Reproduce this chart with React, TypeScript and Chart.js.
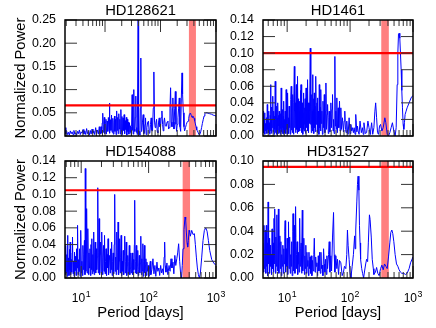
import React, { useEffect, useRef } from 'react';
import { Chart, registerables } from 'chart.js';

Chart.register(...registerables);

const FONT = '"Liberation Sans", Arial, Helvetica, sans-serif';

// ---------------- chart values ----------------
const TITLES = ['HD128621', 'HD1461', 'HD154088', 'HD31527'];
const X_MIN = [1.9, 4.13, 5.75, 4.13];
const X_MAX = [1000, 1000, 1000, 1000];
const Y_MAX = [0.25, 0.14, 0.14, 0.1];
const Y_STEP = [0.05, 0.02, 0.02, 0.02];
const THRESHOLD = [0.066, 0.1, 0.105, 0.095];
const BAND_START = [325, 313, 320, 313];
const BAND_END = [435, 413, 412, 413];
const X_TICKS = [10, 100, 1000];
const X_TICK_BASE = ['10', '10', '10'];
const X_TICK_EXP = ['1', '2', '3'];
const Y_LABEL = 'Normalized Power';
const X_LABEL = 'Period [days]';

// HD128621
const TL_PERIOD = [
  1.9, 1.97, 2.04, 2.12, 2.2, 2.28, 2.37, 2.46, 2.55, 2.65,
  2.75, 2.86, 2.97, 3.08, 3.2, 3.32, 3.45, 3.58, 3.72, 3.86,
  4.01, 4.16, 4.32, 4.49, 4.66, 4.84, 5.02, 5.21, 5.41, 5.62,
  5.84, 6.06, 6.29, 6.53, 6.78, 7.04, 7.31, 7.59, 7.88, 8.1,
  8.3, 8.5, 8.7, 8.9, 9.1, 9.3, 9.5, 9.7, 9.9, 10.1,
  10.4, 10.6, 10.9, 11.2, 11.5, 11.8, 12.0, 12.2, 12.5, 12.8,
  13.1, 13.4, 13.8, 14.1, 14.5, 14.8, 15.1, 15.5, 15.8, 16.2,
  16.6, 16.9, 17.3, 17.7, 18.1, 18.5, 18.9, 19.3, 19.7, 20.2,
  20.6, 21.1, 21.6, 22.1, 22.6, 23.1, 23.6, 24.2, 24.7, 25.2,
  25.7, 26.3, 26.9, 27.6, 28.2, 28.9, 29.5, 30.1, 30.8, 31.3,
  31.7, 32.3, 33.0, 33.6, 34.4, 35.1, 35.9, 36.6, 37.4, 38.2,
  39.5, 40.3, 41.2, 42.4, 43.3, 44.2, 45.1, 46.1, 47.3, 48.7,
  50.0, 51.5, 52.6, 53.7, 55.2, 56.8, 58.8, 60.8, 62.5, 64.3,
  66.0, 67.9, 69.8, 71.8, 74.0, 75.9, 78.0, 80.3, 82.5, 84.9,
  87.3, 89.7, 92.2, 94.8, 97.4, 100, 103, 106, 109, 112,
  115, 118, 122, 127, 131, 136, 140, 144, 148, 152,
  156, 161, 164, 167, 171, 175, 180, 185, 190, 195,
  200, 206, 212, 218, 224, 231, 237, 244, 250, 258,
  265, 272, 282, 292, 302, 313, 322, 331, 340, 349,
  360, 370, 380, 391, 402, 413, 425, 437, 450, 462,
  478, 495, 512, 530, 550, 568, 590, 609, 630, 653,
  690, 720, 770, 826, 890, 949, 1000,
];
const TL_POWER = [
  0.018, 0.004, 0.010, 0.003, 0.008, 0.002, 0.011, 0.005, 0.009, 0.003,
  0.012, 0.004, 0.007, 0.002, 0.010, 0.005, 0.013, 0.003, 0.009, 0.006,
  0.014, 0.004, 0.011, 0.003, 0.016, 0.005, 0.010, 0.002, 0.012, 0.004,
  0.015, 0.006, 0.011, 0.003, 0.018, 0.005, 0.013, 0.004, 0.020, 0.006,
  0.004, 0.020, 0.006, 0.028, 0.049, 0.008, 0.025, 0.040, 0.005, 0.030,
  0.036, 0.004, 0.032, 0.010, 0.040, 0.015, 0.071, 0.006, 0.035, 0.012,
  0.045, 0.008, 0.038, 0.004, 0.030, 0.043, 0.010, 0.036, 0.003, 0.054,
  0.012, 0.040, 0.005, 0.048, 0.015, 0.036, 0.004, 0.057, 0.010, 0.042,
  0.003, 0.039, 0.012, 0.046, 0.005, 0.033, 0.014, 0.040, 0.002, 0.036,
  0.010, 0.030, 0.004, 0.028, 0.008, 0.022, 0.003, 0.020, 0.089, 0.012,
  0.030, 0.004, 0.100, 0.015, 0.010, 0.040, 0.086, 0.008, 0.018, 0.003,
  0.260, 0.004, 0.010, 0.002, 0.060, 0.168, 0.010, 0.012, 0.030, 0.046,
  0.005, 0.007, 0.025, 0.039, 0.003, 0.018, 0.030, 0.032, 0.006, 0.007,
  0.025, 0.039, 0.012, 0.011, 0.060, 0.138, 0.030, 0.018, 0.028, 0.036,
  0.010, 0.007, 0.030, 0.039, 0.020, 0.018, 0.040, 0.054, 0.025, 0.011,
  0.030, 0.039, 0.022, 0.021, 0.030, 0.032, 0.015, 0.018, 0.060, 0.104,
  0.030, 0.020, 0.060, 0.082, 0.030, 0.015, 0.060, 0.096, 0.025, 0.010,
  0.025, 0.039, 0.060, 0.082, 0.020, 0.010, 0.080, 0.136, 0.090, 0.050,
  0.020, 0.011, 0.018, 0.025, 0.030, 0.032, 0.038, 0.046, 0.049, 0.048,
  0.044, 0.040, 0.043, 0.042, 0.038, 0.033, 0.026, 0.020, 0.013, 0.011,
  0.007, 0.003, 0.004, 0.009, 0.018, 0.027, 0.036, 0.043, 0.048, 0.050,
  0.050, 0.049, 0.048, 0.047, 0.045, 0.044, 0.043,
];

// HD1461
const TR_PERIOD = [
  4.13, 4.22, 4.30, 4.38, 4.44, 4.52, 4.60, 4.68, 4.76, 4.83,
  4.90, 4.98, 5.07, 5.14, 5.22, 5.30, 5.38, 5.45, 5.52, 5.60,
  5.66, 5.72, 5.80, 5.87, 5.94, 6.00, 6.08, 6.15, 6.22, 6.30,
  6.38, 6.46, 6.55, 6.63, 6.70, 6.78, 6.86, 6.95, 7.03, 7.12,
  7.20, 7.30, 7.38, 7.47, 7.56, 7.66, 7.75, 7.85, 7.94, 8.04,
  8.13, 8.24, 8.34, 8.44, 8.55, 8.66, 8.75, 8.85, 8.96, 9.07,
  9.18, 9.30, 9.42, 9.53, 9.64, 9.76, 9.88, 10.0, 10.1, 10.2,
  10.35, 10.5, 10.6, 10.75, 10.9, 11.05, 11.2, 11.4, 11.6, 11.75,
  11.9, 12.05, 12.2, 12.3, 12.45, 12.6, 12.8, 13.0, 13.15, 13.3,
  13.5, 13.65, 13.8, 14.0, 14.15, 14.35, 14.5, 14.7, 14.9, 15.1,
  15.3, 15.5, 15.7, 15.9, 16.1, 16.3, 16.45, 16.6, 16.8, 17.0,
  17.2, 17.5, 17.7, 17.9, 18.1, 18.4, 18.6, 18.9, 19.1, 19.3,
  19.55, 19.8, 20.0, 20.2, 20.45, 20.7, 20.95, 21.2, 21.45, 21.7,
  22.0, 22.3, 22.6, 22.9, 23.3, 23.6, 23.9, 24.2, 24.5, 24.8,
  25.1, 25.4, 25.7, 26.0, 26.3, 26.6, 27.0, 27.4, 27.8, 28.2,
  28.7, 29.1, 29.5, 29.8, 30.2, 30.5, 30.9, 31.4, 31.9, 32.4,
  32.9, 33.6, 34.0, 34.4, 35.0, 35.7, 36.3, 37.1, 37.9, 38.9,
  39.8, 40.5, 41.3, 42.2, 43.0, 43.9, 45.0, 46.0, 46.6, 47.8,
  48.6, 49.5, 50.5, 51.6, 52.6, 53.6, 54.6, 55.8, 57.3, 58.3,
  59.4, 60.5, 61.6, 62.9, 64.7, 66.2, 67.9, 69.5, 71.3, 73.0,
  75.7, 78.5, 80.5, 82.4, 84.5, 86.5, 88.6, 91.0, 93.1, 96.5,
  100, 103, 106, 109, 113, 116, 120, 123, 128, 131,
  134, 139, 144, 151, 157, 162, 166, 175, 183, 192,
  200, 208, 212, 220, 229, 239, 248, 255, 264, 273,
  283, 294, 305, 320, 336, 357, 370, 389, 408, 428,
  449, 471, 496, 520, 540, 560, 574, 588, 602, 617,
  632, 648, 664, 680, 697, 714, 731, 749, 777, 806,
  867, 932, 1000,
];
const TR_POWER = [
  0.030, 0.004, 0.020, 0.028, 0.002, 0.015, 0.006, 0.022, 0.003, 0.038,
  0.008, 0.018, 0.030, 0.004, 0.016, 0.002, 0.025, 0.062, 0.006, 0.020,
  0.003, 0.035, 0.010, 0.026, 0.048, 0.005, 0.030, 0.012, 0.002, 0.024,
  0.008, 0.066, 0.004, 0.028, 0.010, 0.036, 0.002, 0.022, 0.007, 0.040,
  0.003, 0.025, 0.012, 0.030, 0.004, 0.018, 0.002, 0.027, 0.009, 0.058,
  0.005, 0.020, 0.003, 0.032, 0.010, 0.024, 0.002, 0.042, 0.006, 0.020,
  0.004, 0.030, 0.011, 0.003, 0.056, 0.008, 0.026, 0.002, 0.034, 0.052,
  0.006, 0.022, 0.003, 0.036, 0.010, 0.028, 0.002, 0.044, 0.060, 0.007,
  0.030, 0.004, 0.038, 0.050, 0.012, 0.002, 0.040, 0.084, 0.010, 0.030,
  0.040, 0.004, 0.035, 0.062, 0.008, 0.040, 0.003, 0.072, 0.012, 0.045,
  0.005, 0.030, 0.042, 0.006, 0.035, 0.055, 0.010, 0.062, 0.004, 0.030,
  0.012, 0.040, 0.002, 0.028, 0.008, 0.052, 0.006, 0.034, 0.014, 0.045,
  0.003, 0.030, 0.058, 0.010, 0.036, 0.048, 0.006, 0.068, 0.012, 0.040,
  0.004, 0.040, 0.015, 0.030, 0.106, 0.014, 0.036, 0.004, 0.050, 0.010,
  0.030, 0.074, 0.006, 0.032, 0.045, 0.003, 0.052, 0.010, 0.036, 0.005,
  0.072, 0.014, 0.030, 0.040, 0.004, 0.046, 0.012, 0.030, 0.002, 0.062,
  0.010, 0.035, 0.006, 0.056, 0.015, 0.030, 0.002, 0.042, 0.010, 0.050,
  0.004, 0.030, 0.064, 0.008, 0.026, 0.038, 0.003, 0.022, 0.030, 0.005,
  0.028, 0.040, 0.010, 0.032, 0.050, 0.006, 0.020, 0.003, 0.096, 0.012,
  0.030, 0.008, 0.046, 0.004, 0.034, 0.010, 0.042, 0.006, 0.034, 0.008,
  0.022, 0.005, 0.018, 0.030, 0.008, 0.004, 0.018, 0.006, 0.002, 0.022,
  0.003, 0.014, 0.006, 0.010, 0.004, 0.010, 0.002, 0.026, 0.005, 0.012,
  0.006, 0.002, 0.018, 0.004, 0.010, 0.002, 0.016, 0.003, 0.004, 0.018,
  0.010, 0.002, 0.006, 0.016, 0.002, 0.010, 0.030, 0.040, 0.022, 0.004,
  0.002, 0.012, 0.014, 0.006, 0.010, 0.022, 0.016, 0.002, 0.000, 0.004,
  0.010, 0.016, 0.006, 0.000, 0.010, 0.062, 0.100, 0.123, 0.124, 0.118,
  0.100, 0.080, 0.055, 0.034, 0.014, 0.008, 0.016, 0.026, 0.030, 0.034,
  0.040, 0.046, 0.049,
];

// HD154088
const BL_PERIOD = [
  5.78, 5.85, 5.92, 6.02, 6.12, 6.19, 6.26, 6.37, 6.48, 6.59,
  6.71, 6.78, 6.86, 6.98, 7.10, 7.22, 7.35, 7.43, 7.56, 7.69,
  7.82, 7.96, 8.10, 8.24, 8.38, 8.53, 8.67, 8.83, 8.98, 9.14,
  9.30, 9.46, 9.62, 9.79, 9.89, 10.07, 10.24, 10.42, 10.60, 10.79,
  10.98, 11.17, 11.37, 11.50, 11.70, 11.90, 12.04, 12.24, 12.46, 12.60,
  12.82, 13.04, 13.27, 13.50, 13.73, 13.97, 14.22, 14.38, 14.63, 14.89,
  15.15, 15.33, 15.59, 15.87, 16.14, 16.43, 16.71, 17.01, 17.31, 17.61,
  17.92, 18.23, 18.44, 18.76, 19.09, 19.42, 19.76, 19.99, 20.34, 20.69,
  21.06, 21.42, 21.80, 22.18, 22.57, 22.97, 23.37, 23.78, 24.20, 24.62,
  25.05, 25.49, 25.94, 26.39, 26.86, 27.33, 27.81, 28.29, 28.79, 29.30,
  29.81, 30.33, 30.86, 31.41, 31.96, 32.52, 33.09, 33.67, 34.26, 34.86,
  35.27, 35.89, 36.52, 37.16, 37.81, 38.47, 39.15, 39.83, 40.53, 41.24,
  41.96, 42.70, 43.45, 44.21, 44.98, 45.77, 46.57, 47.39, 48.22, 49.06,
  49.92, 50.80, 51.69, 52.59, 53.52, 54.45, 55.41, 56.38, 57.36, 58.37,
  59.39, 60.43, 61.49, 62.20, 63.29, 64.40, 65.53, 66.68, 67.85, 69.04,
  70.25, 71.48, 72.74, 74.01, 75.31, 76.63, 77.97, 79.34, 80.73, 82.15,
  83.59, 85.05, 86.55, 88.06, 89.61, 91.18, 92.78, 94.41, 96.6, 98.9,
  101, 103, 106, 108, 112, 116, 120, 124, 128, 133,
  137, 142, 146, 151, 156, 161, 166, 170, 173, 176,
  181, 187, 193, 201, 208, 215, 222, 230, 237, 245,
  253, 262, 270, 279, 289, 298, 308, 316, 324, 335,
  347, 355, 363, 372, 380, 389, 398, 407, 416, 436,
  456, 478, 494, 511, 529, 548, 567, 587, 614, 642,
  672, 704, 737, 771, 807, 864, 925, 1000,
];
const BL_POWER = [
  0.020, 0.004, 0.039, 0.006, 0.028, 0.002, 0.051, 0.008, 0.024, 0.003,
  0.034, 0.010, 0.043, 0.004, 0.022, 0.007, 0.030, 0.049, 0.005, 0.020,
  0.002, 0.031, 0.009, 0.026, 0.003, 0.035, 0.012, 0.063, 0.004, 0.022,
  0.008, 0.035, 0.002, 0.040, 0.057, 0.006, 0.020, 0.003, 0.039, 0.010,
  0.028, 0.045, 0.004, 0.131, 0.008, 0.030, 0.083, 0.006, 0.025, 0.059,
  0.004, 0.030, 0.012, 0.035, 0.003, 0.040, 0.010, 0.047, 0.005, 0.028,
  0.008, 0.055, 0.004, 0.030, 0.043, 0.006, 0.035, 0.010, 0.025, 0.108,
  0.006, 0.030, 0.071, 0.004, 0.028, 0.043, 0.006, 0.030, 0.055, 0.004,
  0.025, 0.039, 0.008, 0.051, 0.005, 0.020, 0.035, 0.003, 0.028, 0.012,
  0.047, 0.004, 0.022, 0.027, 0.006, 0.035, 0.010, 0.043, 0.003, 0.020,
  0.030, 0.005, 0.040, 0.100, 0.008, 0.025, 0.004, 0.055, 0.010, 0.030,
  0.067, 0.004, 0.020, 0.047, 0.006, 0.025, 0.051, 0.003, 0.020, 0.008,
  0.033, 0.004, 0.028, 0.050, 0.006, 0.020, 0.043, 0.003, 0.015, 0.027,
  0.005, 0.020, 0.039, 0.004, 0.012, 0.030, 0.006, 0.018, 0.030, 0.004,
  0.022, 0.010, 0.040, 0.093, 0.006, 0.020, 0.039, 0.005, 0.015, 0.033,
  0.003, 0.010, 0.027, 0.006, 0.018, 0.050, 0.004, 0.023, 0.008, 0.041,
  0.002, 0.020, 0.039, 0.006, 0.015, 0.023, 0.003, 0.019, 0.008, 0.015,
  0.002, 0.012, 0.020, 0.004, 0.010, 0.023, 0.005, 0.015, 0.002, 0.019,
  0.008, 0.012, 0.003, 0.015, 0.006, 0.011, 0.004, 0.025, 0.043, 0.015,
  0.007, 0.018, 0.004, 0.015, 0.008, 0.023, 0.012, 0.019, 0.005, 0.027,
  0.015, 0.023, 0.030, 0.041, 0.020, 0.006, 0.000, 0.015, 0.035, 0.058,
  0.073, 0.070, 0.055, 0.042, 0.037, 0.045, 0.057, 0.055, 0.050, 0.057,
  0.052, 0.053, 0.040, 0.025, 0.012, 0.004, 0.000, 0.006, 0.025, 0.045,
  0.057, 0.060, 0.056, 0.045, 0.033, 0.022, 0.018, 0.015,
];

// HD31527
const BR_PERIOD = [
  4.12, 4.20, 4.28, 4.36, 4.44, 4.50, 4.58, 4.66, 4.75, 4.83,
  4.89, 4.98, 5.07, 5.16, 5.26, 5.35, 5.45, 5.55, 5.65, 5.76,
  5.86, 5.97, 6.08, 6.19, 6.31, 6.38, 6.50, 6.62, 6.74, 6.86,
  6.99, 7.12, 7.25, 7.38, 7.52, 7.65, 7.80, 7.94, 8.08, 8.23,
  8.39, 8.54, 8.70, 8.85, 9.02, 9.18, 9.29, 9.46, 9.64, 9.82,
  10.0, 10.2, 10.4, 10.5, 10.7, 10.9, 11.0, 11.2, 11.4, 11.6,
  11.8, 12.0, 12.3, 12.4, 12.6, 12.8, 13.0, 13.3, 13.5, 13.6,
  13.9, 14.1, 14.4, 14.7, 14.9, 15.2, 15.5, 15.8, 16.1, 16.4,
  16.7, 17.0, 17.2, 17.4, 17.7, 18.1, 18.4, 18.8, 19.1, 19.5,
  19.8, 20.2, 20.6, 21.0, 21.4, 21.8, 22.2, 22.6, 23.1, 23.5,
  24.1, 24.7, 25.3, 25.9, 26.5, 27.0, 27.7, 28.4, 29.0, 29.7,
  30.5, 31.2, 32.0, 32.8, 33.6, 34.4, 35.2, 36.1, 37.0, 37.9,
  38.9, 39.8, 40.8, 41.8, 42.8, 43.9, 45.5, 46.6, 47.8, 49.5,
  50.8, 52.6, 54.6, 55.9, 57.3, 59.4, 61.6, 63.1, 65.5, 67.9,
  71.3, 74.8, 78.5, 81.4, 85.5, 88.6, 90.8, 93.1, 96.5, 100,
  103, 108, 113, 118, 120, 123, 128, 131, 134, 138,
  141, 144, 147, 153, 158, 164, 170, 177, 183, 190,
  195, 203, 208, 217, 225, 234, 239, 253, 264, 276,
  290, 305, 320, 336, 353, 371, 389, 408, 428, 444,
  461, 477, 496, 520, 547, 574, 602, 632, 664, 714,
  758, 806, 867, 915, 1000,
];
const BR_POWER = [
  0.030, 0.005, 0.045, 0.008, 0.025, 0.041, 0.004, 0.045, 0.010, 0.030,
  0.002, 0.065, 0.012, 0.034, 0.004, 0.028, 0.010, 0.020, 0.003, 0.042,
  0.008, 0.030, 0.005, 0.051, 0.012, 0.059, 0.004, 0.035, 0.010, 0.054,
  0.006, 0.025, 0.059, 0.004, 0.030, 0.036, 0.008, 0.031, 0.002, 0.020,
  0.010, 0.028, 0.004, 0.025, 0.012, 0.040, 0.049, 0.005, 0.025, 0.010,
  0.034, 0.003, 0.030, 0.048, 0.008, 0.025, 0.035, 0.004, 0.020, 0.010,
  0.031, 0.002, 0.040, 0.055, 0.006, 0.030, 0.045, 0.004, 0.035, 0.061,
  0.008, 0.020, 0.031, 0.003, 0.012, 0.022, 0.005, 0.051, 0.010, 0.025,
  0.030, 0.004, 0.030, 0.058, 0.006, 0.020, 0.034, 0.003, 0.019, 0.008,
  0.028, 0.004, 0.022, 0.010, 0.015, 0.002, 0.022, 0.008, 0.018, 0.004,
  0.019, 0.002, 0.015, 0.006, 0.020, 0.034, 0.005, 0.018, 0.010, 0.013,
  0.002, 0.019, 0.006, 0.022, 0.004, 0.022, 0.008, 0.011, 0.002, 0.025,
  0.012, 0.005, 0.016, 0.003, 0.019, 0.008, 0.020, 0.031, 0.005, 0.019,
  0.006, 0.035, 0.056, 0.020, 0.005, 0.019, 0.008, 0.016, 0.003, 0.015,
  0.013, 0.002, 0.005, 0.010, 0.008, 0.020, 0.041, 0.028, 0.016, 0.004,
  0.000, 0.010, 0.020, 0.036, 0.025, 0.041, 0.065, 0.080, 0.087, 0.075,
  0.045, 0.030, 0.016, 0.008, 0.004, 0.000, 0.006, 0.012, 0.016, 0.014,
  0.030, 0.054, 0.050, 0.035, 0.016, 0.008, 0.003, 0.005, 0.009, 0.004,
  0.002, 0.008, 0.011, 0.007, 0.012, 0.010, 0.008, 0.018, 0.030, 0.039,
  0.041, 0.038, 0.031, 0.020, 0.012, 0.010, 0.007, 0.005, 0.004, 0.004,
  0.003, 0.004, 0.008, 0.013, 0.018,
];

const PERIODS = [TL_PERIOD, TR_PERIOD, BL_PERIOD, BR_PERIOD];
const POWERS = [TL_POWER, TR_POWER, BL_POWER, BR_POWER];

// ---------------- layout (pixels) ----------------
const W = 436;
const H = 328;
const AREAS = [
  { l: 65, t: 20, r: 216, b: 136 },
  { l: 263, t: 20, r: 413, b: 136 },
  { l: 65, t: 161, r: 216, b: 278 },
  { l: 263, t: 161, r: 413, b: 278 },
];
const TITLE_SIZE = 14.8;
const TITLE_PAD_BOTTOM = 2.1;
const TICK_SIZE = 12.4;

function makeConfig(i: number): any {
  const a = AREAS[i];
  const leftCol = i % 2 === 0;
  const bottomRow = i >= 2;
  const yW = leftCol ? 58 : 50;
  const xH = bottomRow ? 44 : 0;
  const titleBox = TITLE_SIZE + TITLE_PAD_BOTTOM;

  const decor = {
    id: 'decor' + i,
    beforeDatasetsDraw(chart: any) {
      const { ctx, chartArea: ca, scales } = chart;
      const xs = scales.x;
      const x0 = xs.getPixelForValue(BAND_START[i]);
      const x1 = xs.getPixelForValue(BAND_END[i]);
      ctx.save();
      ctx.fillStyle = 'rgba(255,0,0,0.5)';
      ctx.fillRect(x0, ca.top, x1 - x0, ca.bottom - ca.top);
      ctx.restore();
    },
    afterDraw(chart: any) {
      const { ctx, chartArea: ca, scales } = chart;
      const xs = scales.x;
      const ys = scales.y;
      ctx.save();
      ctx.strokeStyle = '#333';
      ctx.lineWidth = 1;
      ctx.beginPath();
      const lo = Math.floor(Math.log10(xs.min));
      const hi = Math.ceil(Math.log10(xs.max));
      for (let k = lo; k <= hi; k++) {
        for (let m = 1; m <= 9; m++) {
          const v = m * Math.pow(10, k);
          if (v < xs.min * 0.999 || v > xs.max * 1.001) continue;
          const px = xs.getPixelForValue(v);
          const len = m === 1 ? 12 : 6;
          ctx.moveTo(px, ca.top);
          ctx.lineTo(px, ca.top + len);
          ctx.moveTo(px, ca.bottom);
          ctx.lineTo(px, ca.bottom - len);
        }
      }
      ys.ticks.forEach((t: any) => {
        const py = ys.getPixelForValue(t.value);
        ctx.moveTo(ca.left, py);
        ctx.lineTo(ca.left + 12, py);
        ctx.moveTo(ca.right, py);
        ctx.lineTo(ca.right - 12, py);
      });
      ctx.stroke();
      ctx.strokeStyle = '#000';
      ctx.lineWidth = 1.5;
      ctx.strokeRect(ca.left, ca.top, ca.right - ca.left, ca.bottom - ca.top);

      if (bottomRow) {
        ctx.fillStyle = '#000';
        ctx.textBaseline = 'alphabetic';
        ctx.textAlign = 'left';
        X_TICKS.forEach((v, j) => {
          const px = xs.getPixelForValue(v);
          ctx.font = `12px ${FONT}`;
          const w1 = ctx.measureText(X_TICK_BASE[j]).width;
          ctx.font = `8.8px ${FONT}`;
          const w2 = ctx.measureText(X_TICK_EXP[j]).width;
          const sx = px - (w1 + w2 + 0.5) / 2;
          ctx.font = `12px ${FONT}`;
          ctx.fillText(X_TICK_BASE[j], sx, ca.bottom + 24.3);
          ctx.font = `8.8px ${FONT}`;
          ctx.fillText(X_TICK_EXP[j], sx + w1 + 0.5, ca.bottom + 19.3);
        });
      }
      ctx.restore();
    },
  };

  return {
    type: 'line',
    data: {
      datasets: [
        {
          label: 'threshold',
          data: [
            { x: X_MIN[i], y: THRESHOLD[i] },
            { x: X_MAX[i], y: THRESHOLD[i] },
          ],
          borderColor: '#ff0000',
          borderWidth: 2.2,
          pointRadius: 0,
          order: 0,
        },
        {
          label: 'power',
          data: PERIODS[i].map((p, k) => ({ x: p, y: POWERS[i][k] })),
          borderColor: '#0000ff',
          borderWidth: 1,
          borderJoinStyle: 'round',
          pointRadius: 0,
          tension: 0,
          order: 1,
        },
      ],
    },
    options: {
      responsive: false,
      animation: false,
      events: [],
      layout: {
        padding: {
          left: a.l - yW,
          right: W - a.r,
          top: a.t - titleBox,
          bottom: H - a.b - xH,
        },
      },
      plugins: {
        legend: { display: false },
        tooltip: { enabled: false },
        title: {
          display: true,
          text: TITLES[i],
          fullSize: false,
          align: 'center',
          color: '#000',
          font: { family: FONT, size: TITLE_SIZE, weight: 'normal', lineHeight: 1 },
          padding: { top: 0, bottom: TITLE_PAD_BOTTOM },
        },
      },
      scales: {
        x: {
          type: 'logarithmic',
          position: 'bottom',
          min: X_MIN[i],
          max: X_MAX[i],
          grid: { display: false, drawTicks: false },
          border: { display: false },
          ticks: { display: false },
          afterFit: (s: any) => {
            s.height = xH;
          },
          title: {
            display: bottomRow,
            text: X_LABEL,
            color: '#000',
            font: { family: FONT, size: TITLE_SIZE, lineHeight: 1 },
            padding: { top: 0, bottom: 1.6 },
          },
        },
        y: {
          type: 'linear',
          position: 'left',
          min: 0,
          max: Y_MAX[i],
          grid: { display: false, drawTicks: false },
          border: { display: false },
          ticks: {
            stepSize: Y_STEP[i],
            autoSkip: false,
            padding: 9,
            color: '#000',
            font: { family: FONT, size: TICK_SIZE },
            callback: (v: any) => Number(v).toFixed(2),
          },
          afterFit: (s: any) => {
            s.width = yW;
          },
          title: {
            display: leftCol,
            text: Y_LABEL,
            color: '#000',
            font: { family: FONT, size: TITLE_SIZE, lineHeight: 1 },
            padding: { top: 6.1, bottom: 0 },
          },
        },
      },
    },
    plugins: [decor],
  };
}

export default function App() {
  const refs = useRef<(HTMLCanvasElement | null)[]>([]);

  useEffect(() => {
    const charts = TITLES.map((_, i) => new Chart(refs.current[i] as HTMLCanvasElement, makeConfig(i)));
    return () => {
      charts.forEach((c) => c.destroy());
    };
  }, []);

  return (
    <div style={{ position: 'absolute', left: 0, top: 0, width: W, height: H, background: '#fff' }}>
      {TITLES.map((t, i) => (
        <canvas
          key={t}
          ref={(el) => {
            refs.current[i] = el;
          }}
          width={W}
          height={H}
          style={{ position: 'absolute', left: 0, top: 0, width: W, height: H }}
        />
      ))}
    </div>
  );
}
